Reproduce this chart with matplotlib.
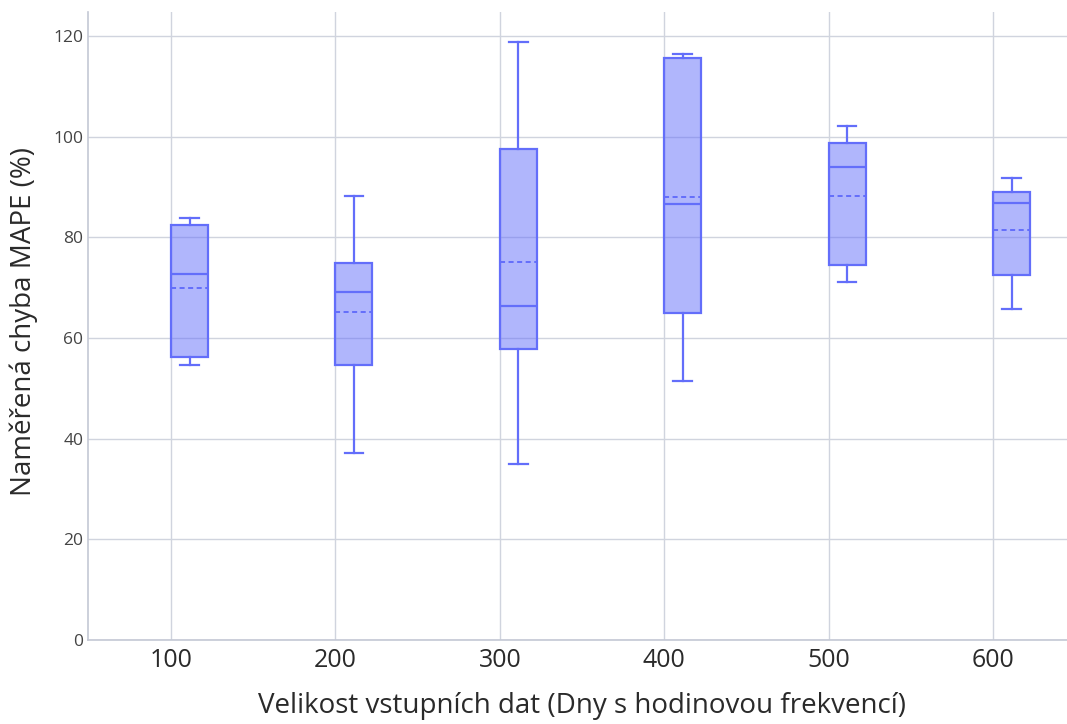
import matplotlib
matplotlib.use("Agg")
import matplotlib.pyplot as plt

categories = ["100", "200", "300", "400", "500", "600"]
whislo = [54.6, 37.2, 35.0, 51.5, 71.1, 65.8]
q1 = [56.2, 54.6, 57.8, 65.0, 74.5, 72.5]
med = [72.7, 69.1, 66.4, 86.6, 94.0, 86.8]
mean = [69.9, 65.2, 75.1, 88.0, 88.2, 81.5]
q3 = [82.5, 74.9, 97.6, 115.6, 98.7, 89.0]
whishi = [83.8, 88.2, 118.8, 116.4, 102.1, 91.8]

plt.rcParams['font.family'] = ['Open Sans', 'DejaVu Sans']

W, H = 1067, 724
fig = plt.figure(figsize=(W / 100, H / 100), dpi=100)
ax = fig.add_axes([88 / W, 1 - 640 / H, 1 - 88 / W, (640 - 12) / H])

line_c = '#636efa'
fill_c = (99/255, 110/255, 250/255, 0.5)
grid_c = '#d0d4de'

stats = []
for i in range(len(categories)):
    stats.append(dict(whislo=whislo[i], q1=q1[i], med=med[i], q3=q3[i],
                      whishi=whishi[i], mean=mean[i], fliers=[]))

bw = 0.225
positions = [i + bw / 2 for i in range(len(categories))]
ax.bxp(stats, positions=positions, widths=bw, patch_artist=True,
       showmeans=True, meanline=True, showfliers=False,
       boxprops=dict(facecolor=fill_c, edgecolor=line_c, linewidth=1.6),
       medianprops=dict(color=line_c, linewidth=1.6),
       meanprops=dict(color=line_c, linewidth=1.4, linestyle=(0, (2.6, 1.8))),
       whiskerprops=dict(color=line_c, linewidth=1.6),
       capprops=dict(color=line_c, linewidth=1.6),
       capwidths=bw * 0.5, zorder=3)

ax.set_xlim(-0.505, 5.45)
ax.set_ylim(0, 124.8)
ax.set_xticks(range(len(categories)))
ax.set_xticklabels(categories)
ax.set_yticks([0, 20, 40, 60, 80, 100, 120])

ax.grid(True, color=grid_c, linewidth=1.0, zorder=0)
ax.set_axisbelow(True)
for s in ['top', 'right']:
    ax.spines[s].set_visible(False)
for s in ['left', 'bottom']:
    ax.spines[s].set_color('#c4c8d4')
    ax.spines[s].set_linewidth(1.2)

ax.tick_params(axis='y', length=0, pad=3.5, labelsize=12.5, labelcolor='#444444')
ax.tick_params(axis='x', length=0, pad=6, labelsize=18, labelcolor='#2a2a2a')

fig.text(582 / W, 1 - 706 / H, 'Velikost vstupních dat (Dny s hodinovou frekvencí)',
         fontsize=20, color='#2a2a2a', ha='center', va='center')
fig.text(24 / W, 1 - 322 / H, 'Naměřená chyba MAPE (%)', rotation=90,
         fontsize=20, color='#2a2a2a', ha='center', va='center')

fig.savefig('out.png', dpi=100, facecolor='white')
